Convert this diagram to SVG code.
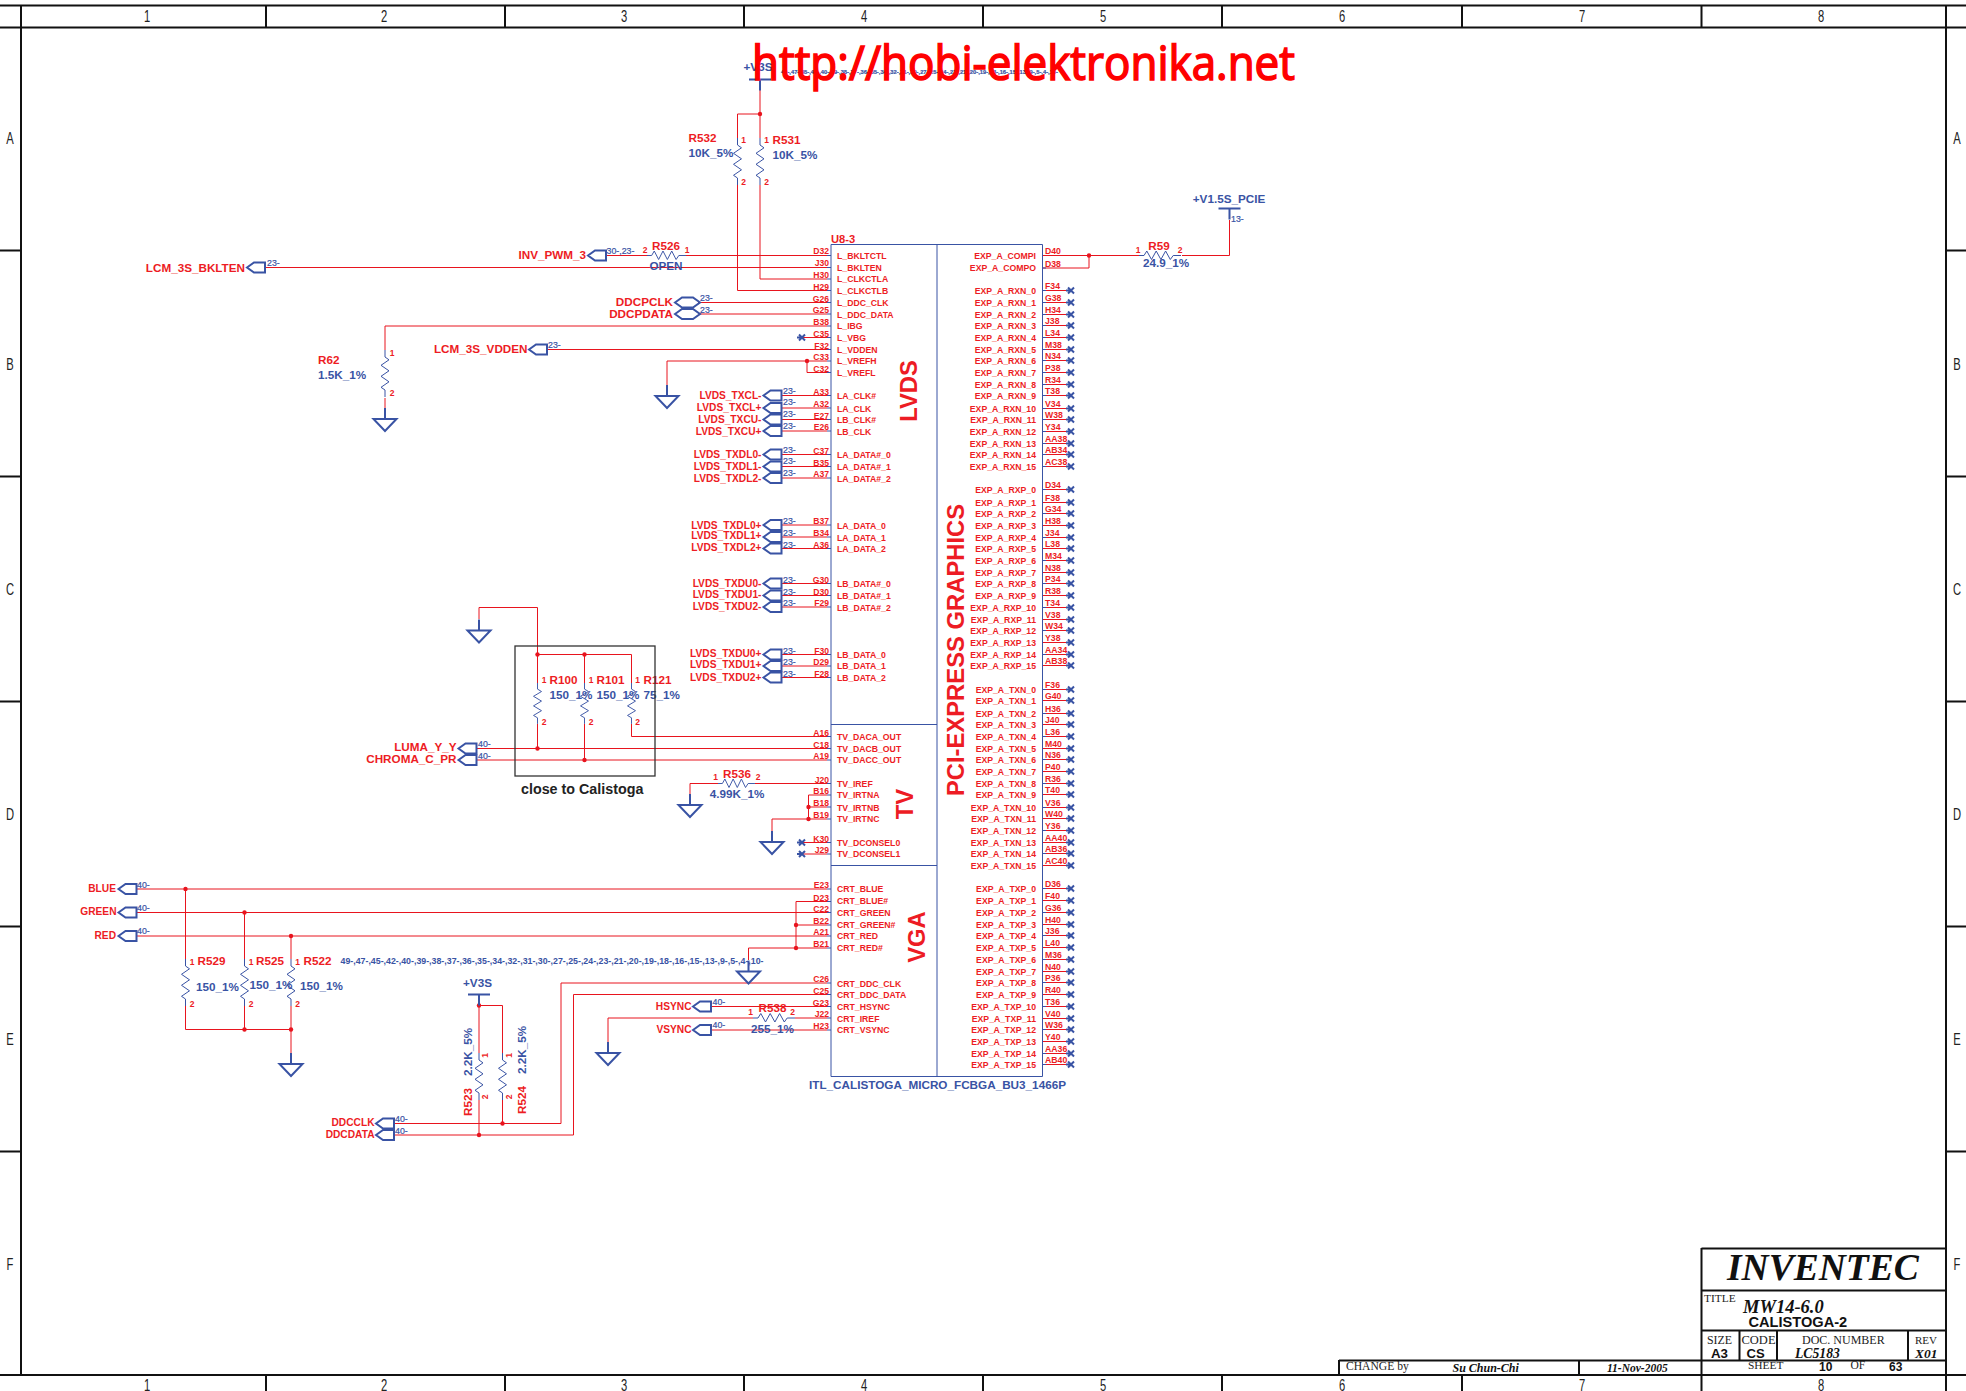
<svg xmlns="http://www.w3.org/2000/svg" width="1966" height="1391" viewBox="0 0 1966 1391">
<style>
text{font-family:"Liberation Sans",Arial,sans-serif}
.w{fill:none;stroke:#E8141E;stroke-width:1}
.b{fill:none;stroke:#3953A4;stroke-width:1}
.b2{fill:none;stroke:#3953A4;stroke-width:2}
.f{fill:none;stroke:#111;stroke-width:2}
.d{fill:#E8141E}
.n,.c,.pn,.l,.r,.big,.s{fill:#ED1C24;font-weight:bold}
.n{font-size:8.7px}
.c{font-size:8.6px;text-anchor:end}
.e{text-anchor:end}
.m{text-anchor:middle}
.pn{font-size:8.5px;text-anchor:middle}
.l{font-size:10.2px;text-anchor:end}
.s{font-size:11.7px;text-anchor:end}
.r{font-size:11.7px}
.v{font-size:11.7px;font-weight:bold;fill:#3953A4}
.t{font-size:8.8px;fill:#3953A4;stroke:#3953A4;stroke-width:.2}
.big{font-size:23.8px;text-anchor:middle}
.g{font-size:16px;fill:#222;text-anchor:middle}
.ser{font-family:"Liberation Serif",serif;fill:#222}
.si{font-family:"Liberation Serif",serif;font-style:italic;font-weight:bold;fill:#111}
.ab{font-weight:bold;fill:#111}
</style>
<defs>
<path id="pl" class="b2" d="M0 0L7-5H18V5H7Z"/>
<path id="pb" class="b2" d="M0 0L7-5H18L25 0L18 5H7Z"/>
<path id="gnd" class="b2" d="M0-11V0M-11.5 0H11.5L0 12Z"/>
<path id="pwr" class="b2" d="M-11 0H11M0 0V11"/>
<path id="x" class="b2" d="M-5 0H0M-3-3L3 3M-3 3L3-3"/>
<path id="rv" class="b" d="M0 0V7L4 9.8L-4 15.3L4 20.8L-4 26.3L4 31.8L-4 37.3L0 40V47"/>
<path id="rh" class="b" d="M0 0H5L7.8-4.5L12.5 4L17.2-4.5L21.9 4L26.6-4.5L31.3 4L34.2 0H42"/>
<circle id="dot" class="d" r="2.2"/>
</defs>
<rect width="1966" height="1391" fill="#fff"/>

<g id="frame">
<path class="f" d="M0 5.5H1966M0 27.5H1966M21 5V1375M1946 5V1391M0 1375H1966M266 5V27M505 5V27M744 5V27M983 5V27M1222 5V27M1462 5V27M1701.5 5V27M266 1375V1391M505 1375V1391M744 1375V1391M983 1375V1391M1222 1375V1391M1462 1375V1391M1701.5 1375V1391M0 250.5H21M0 476.5H21M0 701.5H21M0 926.5H21M0 1151.5H21M1946 250.5H1966M1946 476.5H1966M1946 701.5H1966M1946 926.5H1966M1946 1151.5H1966"/>
<g class="g">
<text transform="translate(147 21.5) scale(.7 1)">1</text><text transform="translate(384 21.5) scale(.7 1)">2</text><text transform="translate(624 21.5) scale(.7 1)">3</text><text transform="translate(864 21.5) scale(.7 1)">4</text><text transform="translate(1103 21.5) scale(.7 1)">5</text><text transform="translate(1342 21.5) scale(.7 1)">6</text><text transform="translate(1582 21.5) scale(.7 1)">7</text><text transform="translate(1821 21.5) scale(.7 1)">8</text>
<text transform="translate(147 1391) scale(.7 1)">1</text><text transform="translate(384 1391) scale(.7 1)">2</text><text transform="translate(624 1391) scale(.7 1)">3</text><text transform="translate(864 1391) scale(.7 1)">4</text><text transform="translate(1103 1391) scale(.7 1)">5</text><text transform="translate(1342 1391) scale(.7 1)">6</text><text transform="translate(1582 1391) scale(.7 1)">7</text><text transform="translate(1821 1391) scale(.7 1)">8</text>
<text transform="translate(10 144) scale(.7 1)">A</text><text transform="translate(10 370) scale(.7 1)">B</text><text transform="translate(10 595) scale(.7 1)">C</text><text transform="translate(10 820) scale(.7 1)">D</text><text transform="translate(10 1045) scale(.7 1)">E</text><text transform="translate(10 1270) scale(.7 1)">F</text>
<text transform="translate(1957 144) scale(.7 1)">A</text><text transform="translate(1957 370) scale(.7 1)">B</text><text transform="translate(1957 595) scale(.7 1)">C</text><text transform="translate(1957 820) scale(.7 1)">D</text><text transform="translate(1957 1045) scale(.7 1)">E</text><text transform="translate(1957 1270) scale(.7 1)">F</text>
</g>
</g>

<g id="title-block">
<path class="f" d="M1701.5 1248.5H1946M1701.5 1290.5H1946M1701.5 1330.5H1946M1339 1360.5H1946M1701.5 1248V1375M1339 1360V1375M1579 1360V1375M1739.5 1331V1360M1777 1331V1360M1908 1331V1360"/>
<text class="si" x="1727" y="1280" font-size="37.5">INVENTEC</text>
<text class="ser" x="1704" y="1301.5" font-size="11.4">TITLE</text>
<text class="si" x="1743" y="1313" font-size="18.5">MW14-6.0</text>
<text class="ab" x="1748.5" y="1327" font-size="14.6">CALISTOGA-2</text>
<text class="ser" x="1707" y="1344" font-size="11.9">SIZE</text>
<text class="ab" x="1711" y="1358" font-size="13.3">A3</text>
<text class="ser" x="1741.5" y="1344" font-size="12.5">CODE</text>
<text class="ab" x="1746.5" y="1358" font-size="13.1">CS</text>
<text class="ser" x="1802" y="1344" font-size="12">DOC. NUMBER</text>
<text class="si" x="1795" y="1358" font-size="13.7">LC5183</text>
<text class="ser" x="1915" y="1344" font-size="11">REV</text>
<text class="si" x="1915" y="1358" font-size="13.4">X01</text>
<text class="ser" x="1346" y="1369.5" font-size="11.6">CHANGE by</text>
<text class="si" x="1452.5" y="1371.5" font-size="12">Su Chun-Chi</text>
<text class="si" x="1607" y="1371.5" font-size="11.5">11-Nov-2005</text>
<text class="ser" x="1748" y="1368.5" font-size="11.4">SHEET</text>
<text class="ab" x="1819" y="1371" font-size="12">10</text>
<text class="ser" x="1850.5" y="1369" font-size="11.5">OF</text>
<text class="ab" x="1889" y="1371" font-size="12">63</text>
</g>

<g id="connectors">
<path class="w" d="M760 90V138M760 114H737.5V138M760 185V279H827M737.5 185V290.5H827M606 255.5H648M686 255.5H827M266 267.5H827M698 302.5H827M698 314H827M827 326H385V350M385 398V408M802 337.5H827M547 349.5H827M827 361H667V385M807 361V372.5H827M781 395.5H827M781 408H827M781 419.5H827M781 431H827M781 454.5H827M781 466.5H827M781 478H827M781 525H827M781 537H827M781 548.5H827M781 583.5H827M781 595.5H827M781 607H827M781 654.5H827M781 666H827M781 677.5H827"/>
<path class="w" d="M827 736.5H631.5V724M537.5 654.5H631.5V683M584.5 654.5V683M537.5 607.5V683M537.5 607.5H479V619M537.5 724V748.5M584.5 724V760M476 748.5H827M476 760H827M755 783.5H827M718 783.5H690V794M827 795H808.5V819M808.5 807H827M827 819H772V831M802 842.5H827M802 854H827"/>
<path class="w" d="M136 889H827M796 901.5H827M136 912.5H827M796 925H827M136 936H827M827 948H748.5V960M796 901.5V948M185.5 889V959M244.5 912.5V959M291 936V959M185.5 1006V1029.5H291V1053M244.5 1006V1029.5M291 1006V1029.5M827 983H561V1123.5H394M827 994.5H573.5V1135H394M479 1005.5V1053M479 1005.5H502.5V1053M479 1100V1135M502.5 1100V1123.5M711 1006.5H827M795 1018H827M753 1018H608V1042M711 1030H827"/>
<path class="w" d="M1042 255.5H1139M1089 255.5V268H1042M1182 255.5H1229.5V220"/>
<path class="w" d="M1042 290.5H1066M1042 302.5H1066M1042 314.5H1066M1042 325.5H1066M1042 337.5H1066M1042 349.5H1066M1042 360.5H1066M1042 372.5H1066M1042 384.5H1066M1042 395.5H1066M1042 408.5H1066M1042 419.5H1066M1042 431.5H1066M1042 443.5H1066M1042 454.5H1066M1042 466.5H1066M1042 489.5H1066M1042 502.5H1066M1042 513.5H1066M1042 525.5H1066M1042 537.5H1066M1042 548.5H1066M1042 560.5H1066M1042 572.5H1066M1042 583.5H1066M1042 595.5H1066M1042 607.5H1066M1042 619.5H1066M1042 630.5H1066M1042 642.5H1066M1042 654.5H1066M1042 665.5H1066M1042 689.5H1066M1042 700.5H1066M1042 713.5H1066M1042 724.5H1066M1042 736.5H1066M1042 748.5H1066M1042 759.5H1066M1042 771.5H1066M1042 783.5H1066M1042 794.5H1066M1042 807.5H1066M1042 818.5H1066M1042 830.5H1066M1042 842.5H1066M1042 853.5H1066M1042 865.5H1066M1042 888.5H1066M1042 900.5H1066M1042 912.5H1066M1042 924.5H1066M1042 935.5H1066M1042 947.5H1066M1042 959.5H1066M1042 971.5H1066M1042 982.5H1066M1042 994.5H1066M1042 1006.5H1066M1042 1018.5H1066M1042 1029.5H1066M1042 1041.5H1066M1042 1053.5H1066M1042 1064.5H1066"/>
<g>
<use href="#dot" x="760" y="114"/><use href="#dot" x="807" y="361"/><use href="#dot" x="537.5" y="654.5"/><use href="#dot" x="584.5" y="654.5"/><use href="#dot" x="537.5" y="748.5"/><use href="#dot" x="584.5" y="760"/><use href="#dot" x="808.5" y="807"/><use href="#dot" x="808.5" y="819"/><use href="#dot" x="796" y="925"/><use href="#dot" x="796" y="948"/><use href="#dot" x="185.5" y="889"/><use href="#dot" x="244.5" y="912.5"/><use href="#dot" x="291" y="936"/><use href="#dot" x="244.5" y="1029.5"/><use href="#dot" x="291" y="1029.5"/><use href="#dot" x="479" y="1005.5"/><use href="#dot" x="502.5" y="1123.5"/><use href="#dot" x="479" y="1135"/><use href="#dot" x="1089" y="255.5"/>
</g>
</g>

<g id="U8-3">
<path class="b" d="M827 255.5h4M827 267.5h4M827 279h4M827 290.5h4M827 302.5h4M827 314h4M827 326h4M827 337.5h4M827 349.5h4M827 361h4M827 372.5h4M827 395.5h4M827 408h4M827 419.5h4M827 431h4M827 454.5h4M827 466.5h4M827 478h4M827 525h4M827 537h4M827 548.5h4M827 583.5h4M827 595.5h4M827 607h4M827 654.5h4M827 666h4M827 677.5h4M827 736.5h4M827 748.5h4M827 760h4M827 783.5h4M827 795h4M827 807h4M827 819h4M827 842.5h4M827 854h4M827 889h4M827 901.5h4M827 912.5h4M827 925h4M827 936h4M827 948h4M827 983h4M827 994.5h4M827 1006.5h4M827 1018h4M827 1030h4M1042 268h4M1042 290.5h4M1042 302.5h4M1042 314.5h4M1042 325.5h4M1042 337.5h4M1042 349.5h4M1042 360.5h4M1042 372.5h4M1042 384.5h4M1042 395.5h4M1042 408.5h4M1042 419.5h4M1042 431.5h4M1042 443.5h4M1042 454.5h4M1042 466.5h4M1042 489.5h4M1042 513.5h4M1042 537.5h4M1042 560.5h4M1042 583.5h4M1042 607.5h4M1042 630.5h4M1042 654.5h4M1042 689.5h4M1042 713.5h4M1042 736.5h4M1042 759.5h4M1042 783.5h4M1042 807.5h4M1042 830.5h4M1042 853.5h4M1042 888.5h4M1042 912.5h4M1042 935.5h4M1042 959.5h4M1042 982.5h4M1042 1006.5h4M1042 1029.5h4M1042 1053.5h4M1042 1064.5h4"/>
<path class="b" d="M831 244.5H1042.5V1076.5H831ZM937 244.5V1076.5M831 724.5H937M831 865.5H937"/>
<text class="r" x="831" y="243" style="font-size:11.2px">U8-3</text>
<text class="big" transform="translate(916.5 391) rotate(-90)">LVDS</text>
<text class="big" transform="translate(964 650) rotate(-90)">PCI-EXPRESS GRAPHICS</text>
<text class="big" transform="translate(912.5 804) rotate(-90)">TV</text>
<text class="big" transform="translate(925 937) rotate(-90)">VGA</text>
<text x="1066" y="1089" text-anchor="end" class="v" textLength="257" lengthAdjust="spacingAndGlyphs" style="font-size:11px">ITL_CALISTOGA_MICRO_FCBGA_BU3_1466P</text>
<g>
<text class="n" x="837" y="259">L_BKLTCTL</text><text class="n" x="837" y="271">L_BKLTEN</text><text class="n" x="837" y="282">L_CLKCTLA</text><text class="n" x="837" y="294">L_CLKCTLB</text><text class="n" x="837" y="306">L_DDC_CLK</text><text class="n" x="837" y="318">L_DDC_DATA</text><text class="n" x="837" y="329">L_IBG</text><text class="n" x="837" y="341">L_VBG</text><text class="n" x="837" y="353">L_VDDEN</text><text class="n" x="837" y="364">L_VREFH</text><text class="n" x="837" y="376">L_VREFL</text><text class="n" x="837" y="399">LA_CLK#</text><text class="n" x="837" y="412">LA_CLK</text><text class="n" x="837" y="423">LB_CLK#</text><text class="n" x="837" y="435">LB_CLK</text><text class="n" x="837" y="458">LA_DATA#_0</text><text class="n" x="837" y="470">LA_DATA#_1</text><text class="n" x="837" y="482">LA_DATA#_2</text><text class="n" x="837" y="529">LA_DATA_0</text><text class="n" x="837" y="541">LA_DATA_1</text><text class="n" x="837" y="552">LA_DATA_2</text><text class="n" x="837" y="587">LB_DATA#_0</text><text class="n" x="837" y="599">LB_DATA#_1</text><text class="n" x="837" y="611">LB_DATA#_2</text><text class="n" x="837" y="658">LB_DATA_0</text><text class="n" x="837" y="669">LB_DATA_1</text><text class="n" x="837" y="681">LB_DATA_2</text><text class="n" x="837" y="740">TV_DACA_OUT</text><text class="n" x="837" y="752">TV_DACB_OUT</text><text class="n" x="837" y="763">TV_DACC_OUT</text><text class="n" x="837" y="787">TV_IREF</text><text class="n" x="837" y="798">TV_IRTNA</text><text class="n" x="837" y="811">TV_IRTNB</text><text class="n" x="837" y="822">TV_IRTNC</text><text class="n" x="837" y="846">TV_DCONSEL0</text><text class="n" x="837" y="857">TV_DCONSEL1</text><text class="n" x="837" y="892">CRT_BLUE</text><text class="n" x="837" y="904">CRT_BLUE#</text><text class="n" x="837" y="916">CRT_GREEN</text><text class="n" x="837" y="928">CRT_GREEN#</text><text class="n" x="837" y="939">CRT_RED</text><text class="n" x="837" y="951">CRT_RED#</text><text class="n" x="837" y="987">CRT_DDC_CLK</text><text class="n" x="837" y="998">CRT_DDC_DATA</text><text class="n" x="837" y="1010">CRT_HSYNC</text><text class="n" x="837" y="1022">CRT_IREF</text><text class="n" x="837" y="1033">CRT_VSYNC</text>
</g>
<g>
<text class="c" x="829" y="254">D32</text><text class="c" x="829" y="266">J30</text><text class="c" x="829" y="278">H30</text><text class="c" x="829" y="289.5">H29</text><text class="c" x="829" y="301.5">G26</text><text class="c" x="829" y="313">G25</text><text class="c" x="829" y="325">B38</text><text class="c" x="829" y="336.5">C35</text><text class="c" x="829" y="348.5">F32</text><text class="c" x="829" y="360">C33</text><text class="c" x="829" y="371.5">C32</text><text class="c" x="829" y="394.5">A33</text><text class="c" x="829" y="407">A32</text><text class="c" x="829" y="418.5">E27</text><text class="c" x="829" y="430">E26</text><text class="c" x="829" y="453.5">C37</text><text class="c" x="829" y="465.5">B35</text><text class="c" x="829" y="477">A37</text><text class="c" x="829" y="524">B37</text><text class="c" x="829" y="536">B34</text><text class="c" x="829" y="547.5">A36</text><text class="c" x="829" y="582.5">G30</text><text class="c" x="829" y="594.5">D30</text><text class="c" x="829" y="606">F29</text><text class="c" x="829" y="653.5">F30</text><text class="c" x="829" y="665">D29</text><text class="c" x="829" y="676.5">F28</text><text class="c" x="829" y="735.5">A16</text><text class="c" x="829" y="747.5">C18</text><text class="c" x="829" y="759">A19</text><text class="c" x="829" y="782.5">J20</text><text class="c" x="829" y="794">B16</text><text class="c" x="829" y="806">B18</text><text class="c" x="829" y="818">B19</text><text class="c" x="829" y="841.5">K30</text><text class="c" x="829" y="853">J29</text><text class="c" x="829" y="888">E23</text><text class="c" x="829" y="900.5">D23</text><text class="c" x="829" y="911.5">C22</text><text class="c" x="829" y="924">B22</text><text class="c" x="829" y="935">A21</text><text class="c" x="829" y="947">B21</text><text class="c" x="829" y="982">C26</text><text class="c" x="829" y="993.5">C25</text><text class="c" x="829" y="1005.5">G23</text><text class="c" x="829" y="1017">J22</text><text class="c" x="829" y="1029">H23</text>
</g>
<g class="e">
<text class="n e" x="1036" y="259">EXP_A_COMPI</text><text class="n e" x="1036" y="271">EXP_A_COMPO</text>
<text class="n e" x="1036" y="294">EXP_A_RXN_0</text><text class="n e" x="1036" y="306">EXP_A_RXN_1</text><text class="n e" x="1036" y="318">EXP_A_RXN_2</text><text class="n e" x="1036" y="329">EXP_A_RXN_3</text><text class="n e" x="1036" y="341">EXP_A_RXN_4</text><text class="n e" x="1036" y="353">EXP_A_RXN_5</text><text class="n e" x="1036" y="364">EXP_A_RXN_6</text><text class="n e" x="1036" y="376">EXP_A_RXN_7</text><text class="n e" x="1036" y="388">EXP_A_RXN_8</text><text class="n e" x="1036" y="399">EXP_A_RXN_9</text><text class="n e" x="1036" y="412">EXP_A_RXN_10</text><text class="n e" x="1036" y="423">EXP_A_RXN_11</text><text class="n e" x="1036" y="435">EXP_A_RXN_12</text><text class="n e" x="1036" y="447">EXP_A_RXN_13</text><text class="n e" x="1036" y="458">EXP_A_RXN_14</text><text class="n e" x="1036" y="470">EXP_A_RXN_15</text>
<text class="n e" x="1036" y="493">EXP_A_RXP_0</text><text class="n e" x="1036" y="506">EXP_A_RXP_1</text><text class="n e" x="1036" y="517">EXP_A_RXP_2</text><text class="n e" x="1036" y="529">EXP_A_RXP_3</text><text class="n e" x="1036" y="541">EXP_A_RXP_4</text><text class="n e" x="1036" y="552">EXP_A_RXP_5</text><text class="n e" x="1036" y="564">EXP_A_RXP_6</text><text class="n e" x="1036" y="576">EXP_A_RXP_7</text><text class="n e" x="1036" y="587">EXP_A_RXP_8</text><text class="n e" x="1036" y="599">EXP_A_RXP_9</text><text class="n e" x="1036" y="611">EXP_A_RXP_10</text><text class="n e" x="1036" y="623">EXP_A_RXP_11</text><text class="n e" x="1036" y="634">EXP_A_RXP_12</text><text class="n e" x="1036" y="646">EXP_A_RXP_13</text><text class="n e" x="1036" y="658">EXP_A_RXP_14</text><text class="n e" x="1036" y="669">EXP_A_RXP_15</text>
<text class="n e" x="1036" y="693">EXP_A_TXN_0</text><text class="n e" x="1036" y="704">EXP_A_TXN_1</text><text class="n e" x="1036" y="717">EXP_A_TXN_2</text><text class="n e" x="1036" y="728">EXP_A_TXN_3</text><text class="n e" x="1036" y="740">EXP_A_TXN_4</text><text class="n e" x="1036" y="752">EXP_A_TXN_5</text><text class="n e" x="1036" y="763">EXP_A_TXN_6</text><text class="n e" x="1036" y="775">EXP_A_TXN_7</text><text class="n e" x="1036" y="787">EXP_A_TXN_8</text><text class="n e" x="1036" y="798">EXP_A_TXN_9</text><text class="n e" x="1036" y="811">EXP_A_TXN_10</text><text class="n e" x="1036" y="822">EXP_A_TXN_11</text><text class="n e" x="1036" y="834">EXP_A_TXN_12</text><text class="n e" x="1036" y="846">EXP_A_TXN_13</text><text class="n e" x="1036" y="857">EXP_A_TXN_14</text><text class="n e" x="1036" y="869">EXP_A_TXN_15</text>
<text class="n e" x="1036" y="892">EXP_A_TXP_0</text><text class="n e" x="1036" y="904">EXP_A_TXP_1</text><text class="n e" x="1036" y="916">EXP_A_TXP_2</text><text class="n e" x="1036" y="928">EXP_A_TXP_3</text><text class="n e" x="1036" y="939">EXP_A_TXP_4</text><text class="n e" x="1036" y="951">EXP_A_TXP_5</text><text class="n e" x="1036" y="963">EXP_A_TXP_6</text><text class="n e" x="1036" y="975">EXP_A_TXP_7</text><text class="n e" x="1036" y="986">EXP_A_TXP_8</text><text class="n e" x="1036" y="998">EXP_A_TXP_9</text><text class="n e" x="1036" y="1010">EXP_A_TXP_10</text><text class="n e" x="1036" y="1022">EXP_A_TXP_11</text><text class="n e" x="1036" y="1033">EXP_A_TXP_12</text><text class="n e" x="1036" y="1045">EXP_A_TXP_13</text><text class="n e" x="1036" y="1057">EXP_A_TXP_14</text><text class="n e" x="1036" y="1068">EXP_A_TXP_15</text>
</g>
<g>
<text class="n" x="1045" y="254">D40</text><text class="n" x="1045" y="266.5">D38</text>
<text class="n" x="1045" y="289">F34</text><text class="n" x="1045" y="301">G38</text><text class="n" x="1045" y="313">H34</text><text class="n" x="1045" y="324">J38</text><text class="n" x="1045" y="336">L34</text><text class="n" x="1045" y="348">M38</text><text class="n" x="1045" y="359">N34</text><text class="n" x="1045" y="371">P38</text><text class="n" x="1045" y="383">R34</text><text class="n" x="1045" y="394">T38</text><text class="n" x="1045" y="407">V34</text><text class="n" x="1045" y="418">W38</text><text class="n" x="1045" y="430">Y34</text><text class="n" x="1045" y="442">AA38</text><text class="n" x="1045" y="453">AB34</text><text class="n" x="1045" y="465">AC38</text>
<text class="n" x="1045" y="488">D34</text><text class="n" x="1045" y="501">F38</text><text class="n" x="1045" y="512">G34</text><text class="n" x="1045" y="524">H38</text><text class="n" x="1045" y="536">J34</text><text class="n" x="1045" y="547">L38</text><text class="n" x="1045" y="559">M34</text><text class="n" x="1045" y="571">N38</text><text class="n" x="1045" y="582">P34</text><text class="n" x="1045" y="594">R38</text><text class="n" x="1045" y="606">T34</text><text class="n" x="1045" y="618">V38</text><text class="n" x="1045" y="629">W34</text><text class="n" x="1045" y="641">Y38</text><text class="n" x="1045" y="653">AA34</text><text class="n" x="1045" y="664">AB38</text>
<text class="n" x="1045" y="688">F36</text><text class="n" x="1045" y="699">G40</text><text class="n" x="1045" y="712">H36</text><text class="n" x="1045" y="723">J40</text><text class="n" x="1045" y="735">L36</text><text class="n" x="1045" y="747">M40</text><text class="n" x="1045" y="758">N36</text><text class="n" x="1045" y="770">P40</text><text class="n" x="1045" y="782">R36</text><text class="n" x="1045" y="793">T40</text><text class="n" x="1045" y="806">V36</text><text class="n" x="1045" y="817">W40</text><text class="n" x="1045" y="829">Y36</text><text class="n" x="1045" y="841">AA40</text><text class="n" x="1045" y="852">AB36</text><text class="n" x="1045" y="864">AC40</text>
<text class="n" x="1045" y="887">D36</text><text class="n" x="1045" y="899">F40</text><text class="n" x="1045" y="911">G36</text><text class="n" x="1045" y="923">H40</text><text class="n" x="1045" y="934">J36</text><text class="n" x="1045" y="946">L40</text><text class="n" x="1045" y="958">M36</text><text class="n" x="1045" y="970">N40</text><text class="n" x="1045" y="981">P36</text><text class="n" x="1045" y="993">R40</text><text class="n" x="1045" y="1005">T36</text><text class="n" x="1045" y="1017">V40</text><text class="n" x="1045" y="1028">W36</text><text class="n" x="1045" y="1040">Y40</text><text class="n" x="1045" y="1052">AA36</text><text class="n" x="1045" y="1063">AB40</text>
</g>
<g id="no-connects">
<use href="#x" x="802" y="337.5"/><use href="#x" x="802" y="842.5"/><use href="#x" x="802" y="854"/>
<use href="#x" x="1071" y="290.5"/><use href="#x" x="1071" y="302.5"/><use href="#x" x="1071" y="314.5"/><use href="#x" x="1071" y="325.5"/><use href="#x" x="1071" y="337.5"/><use href="#x" x="1071" y="349.5"/><use href="#x" x="1071" y="360.5"/><use href="#x" x="1071" y="372.5"/><use href="#x" x="1071" y="384.5"/><use href="#x" x="1071" y="395.5"/><use href="#x" x="1071" y="408.5"/><use href="#x" x="1071" y="419.5"/><use href="#x" x="1071" y="431.5"/><use href="#x" x="1071" y="443.5"/><use href="#x" x="1071" y="454.5"/><use href="#x" x="1071" y="466.5"/>
<use href="#x" x="1071" y="489.5"/><use href="#x" x="1071" y="502.5"/><use href="#x" x="1071" y="513.5"/><use href="#x" x="1071" y="525.5"/><use href="#x" x="1071" y="537.5"/><use href="#x" x="1071" y="548.5"/><use href="#x" x="1071" y="560.5"/><use href="#x" x="1071" y="572.5"/><use href="#x" x="1071" y="583.5"/><use href="#x" x="1071" y="595.5"/><use href="#x" x="1071" y="607.5"/><use href="#x" x="1071" y="619.5"/><use href="#x" x="1071" y="630.5"/><use href="#x" x="1071" y="642.5"/><use href="#x" x="1071" y="654.5"/><use href="#x" x="1071" y="665.5"/>
<use href="#x" x="1071" y="689.5"/><use href="#x" x="1071" y="700.5"/><use href="#x" x="1071" y="713.5"/><use href="#x" x="1071" y="724.5"/><use href="#x" x="1071" y="736.5"/><use href="#x" x="1071" y="748.5"/><use href="#x" x="1071" y="759.5"/><use href="#x" x="1071" y="771.5"/><use href="#x" x="1071" y="783.5"/><use href="#x" x="1071" y="794.5"/><use href="#x" x="1071" y="807.5"/><use href="#x" x="1071" y="818.5"/><use href="#x" x="1071" y="830.5"/><use href="#x" x="1071" y="842.5"/><use href="#x" x="1071" y="853.5"/><use href="#x" x="1071" y="865.5"/>
<use href="#x" x="1071" y="888.5"/><use href="#x" x="1071" y="900.5"/><use href="#x" x="1071" y="912.5"/><use href="#x" x="1071" y="924.5"/><use href="#x" x="1071" y="935.5"/><use href="#x" x="1071" y="947.5"/><use href="#x" x="1071" y="959.5"/><use href="#x" x="1071" y="971.5"/><use href="#x" x="1071" y="982.5"/><use href="#x" x="1071" y="994.5"/><use href="#x" x="1071" y="1006.5"/><use href="#x" x="1071" y="1018.5"/><use href="#x" x="1071" y="1029.5"/><use href="#x" x="1071" y="1041.5"/><use href="#x" x="1071" y="1053.5"/><use href="#x" x="1071" y="1064.5"/>
</g>
</g>

<g id="pwr-v3s-top"><use href="#pwr" x="760" y="79.5"/><text class="v m" x="758" y="71">+V3S</text><text x="781" y="74" class="t" textLength="277" lengthAdjust="spacingAndGlyphs" style="font-size:6px;font-weight:bold">49-,47-,45-,42-,40-,39-,38-,37-,36-,35-,34-,32-,31-,30-,27-,25-,24-,23-,21-,20-,19-,18-,16-,15-,13-,9-,5-,4-,10-</text></g>
<g id="pwr-v15s"><use href="#pwr" x="1229.5" y="208.5"/><text class="v m" x="1229" y="203">+V1.5S_PCIE</text><text class="t" x="1231" y="222">13-</text></g>
<g id="pwr-v3s-low"><use href="#pwr" x="479" y="994.5"/><text class="v m" x="477.5" y="986.5">+V3S</text></g>
<g id="gnd-list"><text class="t" x="340.5" y="964" textLength="423" lengthAdjust="spacingAndGlyphs" style="font-size:8.7px;font-weight:bold;stroke:none">49-,47-,45-,42-,40-,39-,38-,37-,36-,35-,34-,32-,31-,30-,27-,25-,24-,23-,21-,20-,19-,18-,16-,15-,13-,9-,5-,4-,10-</text></g>
<g id="grounds"><use href="#gnd" x="385" y="419"/><use href="#gnd" x="667" y="396"/><use href="#gnd" x="479" y="630.5"/><use href="#gnd" x="690" y="805"/><use href="#gnd" x="772" y="842"/><use href="#gnd" x="291" y="1064"/><use href="#gnd" x="748.5" y="971.5"/><use href="#gnd" x="608" y="1053"/></g>

<g id="R532"><use href="#rv" x="737.5" y="138"/><text class="r" x="688.5" y="142">R532</text><text class="v" x="688.5" y="157">10K_5%</text><text class="pn" x="743.5" y="143">1</text><text class="pn" x="743.5" y="185">2</text></g>
<g id="R531"><use href="#rv" x="760" y="138"/><text class="r" x="772.5" y="144">R531</text><text class="v" x="772.5" y="159">10K_5%</text><text class="pn" x="766.5" y="143">1</text><text class="pn" x="766.5" y="185">2</text></g>
<g id="R526"><use href="#rh" transform="translate(647 255.5) scale(.93 1)"/><text class="r m" x="666" y="250">R526</text><text class="v m" x="666" y="270">OPEN</text><text class="pn" x="687" y="253">1</text><text class="pn" x="645" y="253">2</text></g>
<g id="R59"><use href="#rh" x="1139" y="255.5"/><text class="r m" x="1159" y="250">R59</text><text class="v m" x="1166" y="267">24.9_1%</text><text class="pn" x="1138" y="253">1</text><text class="pn" x="1180" y="253">2</text></g>
<g id="R62"><use href="#rv" x="385" y="350"/><text class="r" x="318" y="364">R62</text><text class="v" x="318" y="379">1.5K_1%</text><text class="pn" x="392" y="356">1</text><text class="pn" x="392" y="396">2</text></g>
<g id="R100"><use href="#rv" transform="translate(537.5 683) scale(1 .87)"/><text class="r" x="549.5" y="684">R100</text><text class="v" x="549.5" y="699">150_1%</text><text class="pn" x="544" y="683">1</text><text class="pn" x="544" y="725">2</text></g>
<g id="R101"><use href="#rv" transform="translate(584.5 683) scale(1 .87)"/><text class="r" x="596.5" y="684">R101</text><text class="v" x="596.5" y="699">150_1%</text><text class="pn" x="591" y="683">1</text><text class="pn" x="591" y="725">2</text></g>
<g id="R121"><use href="#rv" transform="translate(631.5 683) scale(1 .87)"/><text class="r" x="643.5" y="684">R121</text><text class="v" x="643.5" y="699">75_1%</text><text class="pn" x="637.5" y="683">1</text><text class="pn" x="637.5" y="725">2</text></g>
<g id="R536"><use href="#rh" transform="translate(718 783.5) scale(.88 1)"/><text class="r m" x="737" y="778">R536</text><text class="v m" x="737" y="798">4.99K_1%</text><text class="pn" x="715.5" y="780">1</text><text class="pn" x="758" y="780">2</text></g>
<g id="R529"><use href="#rv" x="185.5" y="959"/><text class="r" x="197.5" y="965">R529</text><text class="v" x="196" y="991">150_1%</text><text class="pn" x="192" y="965">1</text><text class="pn" x="192" y="1007">2</text></g>
<g id="R525"><use href="#rv" x="244.5" y="959"/><text class="r" x="256" y="965">R525</text><text class="v" x="249.5" y="989">150_1%</text><text class="pn" x="251" y="965">1</text><text class="pn" x="251" y="1007">2</text></g>
<g id="R522"><use href="#rv" x="291" y="959"/><text class="r" x="303.5" y="965">R522</text><text class="v" x="300" y="990">150_1%</text><text class="pn" x="297.5" y="965">1</text><text class="pn" x="297.5" y="1007">2</text></g>
<g id="R523"><use href="#rv" x="479" y="1053"/><text class="r m" transform="translate(471.5 1102) rotate(-90)">R523</text><text class="v m" transform="translate(471.5 1052) rotate(-90)">2.2K_5%</text><text class="pn" transform="translate(488 1055.5) rotate(-90)">1</text><text class="pn" transform="translate(488 1097) rotate(-90)">2</text></g>
<g id="R524"><use href="#rv" x="502.5" y="1053"/><text class="r m" transform="translate(526 1100) rotate(-90)">R524</text><text class="v m" transform="translate(526 1050) rotate(-90)">2.2K_5%</text><text class="pn" transform="translate(512 1055.5) rotate(-90)">1</text><text class="pn" transform="translate(512 1097) rotate(-90)">2</text></g>
<g id="R538"><use href="#rh" x="753" y="1018"/><text class="r m" x="772.5" y="1012">R538</text><text class="v m" x="772.5" y="1033">255_1%</text><text class="pn" x="750.5" y="1015">1</text><text class="pn" x="792.5" y="1015">2</text></g>

<g id="close-box"><rect x="515" y="646" width="140" height="130" fill="none" stroke="#333" stroke-width="1.3"/><text x="521" y="794" font-size="14.3" font-weight="bold" fill="#222">close to Calistoga</text></g>

<g id="port-LCM_3S_BKLTEN"><use href="#pl" x="247" y="267.5"/><text class="s" x="245" y="271.5">LCM_3S_BKLTEN</text><text class="t" x="267" y="266">23-</text></g>
<g id="port-INV_PWM_3"><use href="#pl" x="588" y="255.5"/><text class="s" x="586" y="258.5">INV_PWM_3</text><text class="t" x="606.5" y="254">30-,23-</text></g>
<g id="port-DDCPCLK"><use href="#pb" x="675" y="302.5"/><text class="s" x="673" y="305.5">DDCPCLK</text><text class="t" x="700" y="301">23-</text></g>
<g id="port-DDCPDATA"><use href="#pb" x="675" y="314"/><text class="s" x="673" y="317.5">DDCPDATA</text><text class="t" x="700" y="313">23-</text></g>
<g id="port-LCM_3S_VDDEN"><use href="#pl" x="529" y="349.5"/><text class="s" x="527.5" y="352.5">LCM_3S_VDDEN</text><text class="t" x="548" y="348">23-</text></g>
<g id="port-LVDS_TXCL-"><use href="#pl" x="763.5" y="395.5"/><text class="l" x="761.5" y="399">LVDS_TXCL-</text><text class="t" x="783" y="394">23-</text></g>
<g id="port-LVDS_TXCL+"><use href="#pl" x="763.5" y="408"/><text class="l" x="761.5" y="411">LVDS_TXCL+</text><text class="t" x="783" y="405">23-</text></g>
<g id="port-LVDS_TXCU-"><use href="#pl" x="763.5" y="419.5"/><text class="l" x="761.5" y="422.5">LVDS_TXCU-</text><text class="t" x="783" y="417">23-</text></g>
<g id="port-LVDS_TXCU+"><use href="#pl" x="763.5" y="431"/><text class="l" x="761.5" y="434.5">LVDS_TXCU+</text><text class="t" x="783" y="429">23-</text></g>
<g id="port-LVDS_TXDL0-"><use href="#pl" x="763.5" y="454.5"/><text class="l" x="761.5" y="457.5">LVDS_TXDL0-</text><text class="t" x="783" y="453">23-</text></g>
<g id="port-LVDS_TXDL1-"><use href="#pl" x="763.5" y="466.5"/><text class="l" x="761.5" y="469.5">LVDS_TXDL1-</text><text class="t" x="783" y="464">23-</text></g>
<g id="port-LVDS_TXDL2-"><use href="#pl" x="763.5" y="478"/><text class="l" x="761.5" y="481.5">LVDS_TXDL2-</text><text class="t" x="783" y="476">23-</text></g>
<g id="port-LVDS_TXDL0+"><use href="#pl" x="763.5" y="525"/><text class="l" x="761.5" y="528.5">LVDS_TXDL0+</text><text class="t" x="783" y="524">23-</text></g>
<g id="port-LVDS_TXDL1+"><use href="#pl" x="763.5" y="537"/><text class="l" x="761.5" y="539">LVDS_TXDL1+</text><text class="t" x="783" y="536">23-</text></g>
<g id="port-LVDS_TXDL2+"><use href="#pl" x="763.5" y="548.5"/><text class="l" x="761.5" y="551">LVDS_TXDL2+</text><text class="t" x="783" y="548">23-</text></g>
<g id="port-LVDS_TXDU0-"><use href="#pl" x="763.5" y="583.5"/><text class="l" x="761.5" y="587">LVDS_TXDU0-</text><text class="t" x="783" y="583">23-</text></g>
<g id="port-LVDS_TXDU1-"><use href="#pl" x="763.5" y="595.5"/><text class="l" x="761.5" y="598">LVDS_TXDU1-</text><text class="t" x="783" y="594.5">23-</text></g>
<g id="port-LVDS_TXDU2-"><use href="#pl" x="763.5" y="607"/><text class="l" x="761.5" y="610">LVDS_TXDU2-</text><text class="t" x="783" y="606">23-</text></g>
<g id="port-LVDS_TXDU0+"><use href="#pl" x="763.5" y="654.5"/><text class="l" x="761.5" y="657">LVDS_TXDU0+</text><text class="t" x="783" y="653.5">23-</text></g>
<g id="port-LVDS_TXDU1+"><use href="#pl" x="763.5" y="666"/><text class="l" x="761.5" y="668">LVDS_TXDU1+</text><text class="t" x="783" y="665">23-</text></g>
<g id="port-LVDS_TXDU2+"><use href="#pl" x="763.5" y="677.5"/><text class="l" x="761.5" y="681">LVDS_TXDU2+</text><text class="t" x="783" y="677">23-</text></g>
<g id="port-LUMA_Y_Y"><use href="#pl" x="458.5" y="748.5"/><text class="s" x="456.5" y="751">LUMA_Y_Y</text><text class="t" x="478" y="747">40-</text></g>
<g id="port-CHROMA_C_PR"><use href="#pl" x="458.5" y="760"/><text class="s" x="456.5" y="763">CHROMA_C_PR</text><text class="t" x="478" y="759">40-</text></g>
<g id="port-BLUE"><use href="#pl" x="118.5" y="889"/><text class="l" x="116" y="892">BLUE</text><text class="t" x="137" y="888">40-</text></g>
<g id="port-GREEN"><use href="#pl" x="118.5" y="912.5"/><text class="l" x="116.5" y="915">GREEN</text><text class="t" x="137" y="911">40-</text></g>
<g id="port-RED"><use href="#pl" x="118.5" y="936"/><text class="l" x="116" y="938.5">RED</text><text class="t" x="137" y="934">40-</text></g>
<g id="port-DDCCLK"><use href="#pl" x="376" y="1123.5"/><text class="l" x="374.5" y="1126">DDCCLK</text><text class="t" x="395" y="1122">40-</text></g>
<g id="port-DDCDATA"><use href="#pl" x="376" y="1135"/><text class="l" x="374.5" y="1138">DDCDATA</text><text class="t" x="395" y="1134">40-</text></g>
<g id="port-HSYNC"><use href="#pl" x="693" y="1006.5"/><text class="l" x="691.5" y="1009.5">HSYNC</text><text class="t" x="712.5" y="1005">40-</text></g>
<g id="port-VSYNC"><use href="#pl" x="693" y="1030"/><text class="l" x="691.5" y="1032.5">VSYNC</text><text class="t" x="712.5" y="1028">40-</text></g>

<text id="watermark" x="752" y="80" font-size="48" style="font-family:'Open Sans',sans-serif" fill="#FF0000" stroke="#FF0000" stroke-width="1.6" textLength="543" lengthAdjust="spacingAndGlyphs">http://hobi-elektronika.net</text>
</svg>
